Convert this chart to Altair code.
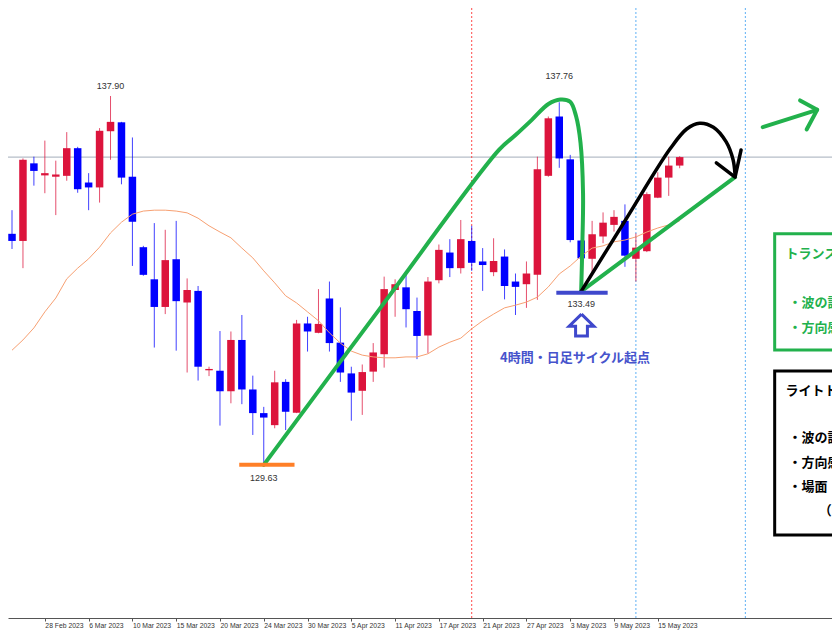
import altair as alt
import pandas as pd

# ---------------- data ----------------
months = [("Feb", [23, 24, 27, 28]),
          ("Mar", [1, 2, 3, 6, 7, 8, 9, 10, 12, 13, 14, 15, 16, 17, 19, 20, 21, 22, 23, 24, 27, 28, 29, 30, 31]),
          ("Apr", [3, 4, 5, 6, 7, 10, 11, 12, 13, 14, 17, 18, 19, 20, 21, 24, 25, 26, 27, 28]),
          ("May", [1, 2, 3, 4, 5, 8, 9, 10, 11, 12, 15, 16, 17])]
dates = [f"{d} {m} 2023" for m, ds in months for d in ds]

opens = [134.81, 134.65, 136.39, 136.12, 136.09, 136.11, 136.73, 135.96, 135.85, 137.11,
         137.31, 136.09, 134.51, 133.79, 133.17, 134.24, 133.27, 133.53, 131.75, 131.74,
         131.28, 132.43, 131.32, 130.79, 130.52, 131.49, 130.80, 132.80, 132.59, 133.36,
         132.37, 131.68, 131.29, 131.72, 132.11, 133.55, 133.61, 133.08, 132.53, 133.77,
         134.39, 134.04, 134.65, 134.19, 133.95, 134.30, 133.74, 133.68, 133.89, 136.11,
         137.44, 136.48, 134.66, 134.25, 134.75, 135.01, 135.10, 134.25, 134.42, 135.62,
         136.07, 136.34]
highs = [135.34, 136.50, 136.54, 136.90, 136.45, 137.09, 136.76, 136.17, 137.18, 137.90,
         137.32, 136.97, 134.54, 135.05, 134.90, 135.10, 133.81, 133.64, 131.83, 132.63,
         132.62, 132.99, 131.63, 130.93, 131.74, 131.55, 132.88, 132.95, 133.57, 133.74,
         133.16, 131.83, 131.88, 132.36, 133.85, 133.79, 133.96, 133.38, 133.84, 134.57,
         134.69, 135.12, 134.99, 134.49, 134.71, 134.46, 133.92, 134.19, 136.54, 137.44,
         137.76, 136.58, 134.67, 135.10, 135.29, 135.34, 135.47, 134.82, 135.74, 136.19,
         136.54, 136.55]
lows = [134.47, 134.04, 135.89, 135.72, 135.23, 136.00, 135.73, 135.34, 135.51, 136.47,
        135.92, 134.09, 133.87, 132.26, 133.01, 132.19, 131.70, 131.52, 131.62, 130.51,
        131.01, 130.99, 130.30, 129.63, 130.45, 130.41, 130.79, 132.17, 132.58, 132.17,
        131.49, 130.62, 130.75, 131.49, 131.81, 132.95, 132.71, 132.00, 132.13, 133.70,
        133.84, 133.92, 133.98, 133.53, 133.86, 133.34, 132.99, 133.15, 133.33, 136.09,
        136.29, 134.62, 133.49, 133.89, 134.60, 134.86, 134.07, 133.74, 134.40, 135.61,
        135.66, 136.28]
closes = [134.65, 136.47, 136.22, 136.17, 136.14, 136.73, 135.81, 135.85, 137.12, 137.32,
          136.07, 135.08, 133.89, 133.17, 134.22, 133.30, 133.55, 131.83, 131.78, 131.28,
          132.43, 131.32, 130.79, 130.69, 131.48, 130.82, 132.80, 132.62, 132.79, 132.36,
          131.70, 131.25, 131.71, 132.15, 133.57, 133.68, 133.12, 132.52, 133.74, 134.45,
          134.04, 134.69, 134.16, 134.11, 134.20, 133.64, 133.62, 133.92, 136.26, 137.40,
          136.50, 134.67, 134.26, 134.80, 135.06, 135.19, 134.32, 134.50, 135.70, 136.07,
          136.34, 136.53]
ma = [132.20, 132.43, 132.70, 133.06, 133.37, 133.80, 134.04, 134.25, 134.51, 134.83,
      135.07, 135.25, 135.32, 135.34, 135.34, 135.32, 135.28, 135.16, 134.99, 134.85,
      134.72, 134.49, 134.27, 133.98, 133.71, 133.42, 133.26, 133.06, 132.86, 132.59,
      132.36, 132.18, 132.09, 132.05, 132.03, 132.03, 132.05, 132.05, 132.12, 132.27,
      132.38, 132.47, 132.68, 132.86, 133.01, 133.15, 133.21, 133.28, 133.39, 133.62,
      133.91, 134.09, 134.31, 134.49, 134.54, 134.63, 134.67, 134.74, 134.85, 134.94,
      135.01, 135.10]

tick_idx = [3, 7, 11, 15, 19, 23, 27, 31, 35, 39, 43, 47, 51, 55, 59]
red_cycle_idx = [42]
blue_cycle_idx = [57, 67]
last_price = closes[-1]

# hand-drawn annotations (candle index, price)
arc_x = [23, 33.66, 44.49, 46.03, 47.47, 49.01, 50.09, 50.99, 51.53, 51.94, 52.17, 52.11, 52.0]
arc_y = [129.63, 133.15, 136.69, 137.03, 137.36, 137.72, 137.82, 137.77, 137.45, 136.85, 135.73, 134.60, 133.52]
black_x = [52.0, 56.05, 60.11, 61.64, 62.82, 64.08, 65.25, 65.88, 66.06]
black_y = [133.52, 135.12, 136.71, 137.16, 137.29, 137.20, 136.87, 136.47, 136.13]
black_head_x = [64.35, 66.06, 66.61]
black_head_y = [136.40, 136.08, 136.69]
green2_x = [52.0, 66.06]
green2_y = [133.52, 136.08]
green3_x = [68.59, 73.56]
green3_y = [137.20, 137.59]
green3_head_x = [72.0, 73.56, 72.6]
green3_head_y = [137.80, 137.59, 137.15]
uparrow_x = [52.03, 53.16, 52.57, 52.57, 51.49, 51.49, 50.90, 52.03]
uparrow_y = [133.01, 132.74, 132.74, 132.52, 132.52, 132.74, 132.74, 133.01]

W, H = 824, 610
XD = [0.09, 74.46]
YD = [126.196, 139.873]

label_expr = "[" + ",".join(f"'{d}'" for d in dates) + "][datum.value]"
xaxis = alt.Axis(values=tick_idx, labelExpr=label_expr, labelAlign="left", labelBaseline="top",
                 labelPadding=1, tickSize=3, labelFont="Liberation Sans", labelFontSize=6.8,
                 labelColor="#333333", domainColor="#555555", tickColor="#555555",
                 labelOverlap=False, labelFlush=False, labelBound=False, grid=False, title=None)


def X(f="x"):
    return alt.X(f"{f}:Q", scale=alt.Scale(domain=XD, nice=False, zero=False), axis=xaxis)


def Y(f="y"):
    return alt.Y(f"{f}:Q", scale=alt.Scale(domain=YD, nice=False, zero=False), axis=None)


df = pd.DataFrame({"idx": list(range(len(dates))), "date": dates, "open": opens,
                   "high": highs, "low": lows, "close": closes, "ma": ma})
df["dir"] = ["up" if c >= o else "down" for o, c in zip(opens, closes)]
color = alt.Color("dir:N", scale=alt.Scale(domain=["up", "down"], range=["#dc143c", "#0000ff"]), legend=None)

base = alt.Chart(df)

price_line = alt.Chart(pd.DataFrame({"y": [last_price]})).mark_rule(
    color="#a3adba", strokeWidth=1).encode(y=Y("y"))

red_v = alt.Chart(pd.DataFrame({"x": red_cycle_idx})).mark_rule(
    color="#ff4a4a", strokeDash=[2, 2], strokeWidth=1).encode(x=X("x"))
blue_v = alt.Chart(pd.DataFrame({"x": blue_cycle_idx})).mark_rule(
    color="#5fb0f5", strokeDash=[2, 2], strokeWidth=1).encode(x=X("x"))

wicks = base.mark_rule(strokeWidth=1, opacity=0.75).encode(x=X("idx"), y=Y("low"), y2="high:Q", color=color)
bodies = base.mark_bar(size=7.5).encode(x=X("idx"), y=Y("open"), y2="close:Q", color=color)
ma_line = base.mark_line(color="#f7a072", strokeWidth=1).encode(x=X("idx"), y=Y("ma"))


def path(xs, ys, col, sw, interp="linear"):
    d = pd.DataFrame({"x": xs, "y": ys, "o": list(range(len(xs)))})
    return alt.Chart(d).mark_line(color=col, strokeWidth=sw, interpolate=interp,
                                  strokeCap="round", strokeJoin="round").encode(
        x=X("x"), y=Y("y"), order="o:Q")


green_arc = path(arc_x, arc_y, "#22b14c", 4, "catmull-rom")
black_curve = path(black_x, black_y, "#000000", 3.5, "catmull-rom")
black_head = path(black_head_x, black_head_y, "#000000", 3.5)
green2 = path(green2_x, green2_y, "#22b14c", 4)
green3 = path(green3_x, green3_y, "#22b14c", 4)
green3_head = path(green3_head_x, green3_head_y, "#22b14c", 4)
uparrow = alt.Chart(pd.DataFrame({"x": uparrow_x, "y": uparrow_y, "o": list(range(len(uparrow_x)))})).mark_line(
    color="#3f48cc", strokeWidth=3, strokeJoin="miter").encode(x=X("x"), y=Y("y"), order="o:Q")

hlines = alt.Chart(pd.DataFrame({"x": [20.76, 49.73], "x2": [25.81, 54.42], "y": [129.63, 133.49],
                                 "c": ["#ff7f27", "#3f48cc"]})).mark_rule(strokeWidth=4).encode(
    x=X("x"), x2="x2:Q", y=Y("y"), color=alt.Color("c:N", scale=None))

price_labels = alt.Chart(pd.DataFrame({"x": [9, 50, 23, 52], "y": [138.12, 138.35, 129.34, 133.24],
                                       "t": ["137.90", "137.76", "129.63", "133.49"]})).mark_text(
    font="Liberation Sans", fontSize=9, color="#333333", align="center", baseline="middle").encode(
    x=X("x"), y=Y("y"), text="t:N")

cycle_text = alt.Chart(pd.DataFrame({"x": [51.44], "y": [132.03], "t": ["4時間・日足サイクル起点"]})).mark_text(
    font="Noto Sans CJK JP", fontSize=13, fontWeight="bold", color="#4653cc", align="center",
    baseline="middle").encode(x=X("x"), y=Y("y"), text="t:N")

boxes = alt.Chart(pd.DataFrame({"x": [69.68, 69.68], "x2": [78, 78], "y": [134.81, 131.734],
                                "y2": [132.205, 128.057], "c": ["#22b14c", "#000000"]})).mark_rect(
    fill="white", strokeWidth=3, clip=True).encode(
    x=X("x"), x2="x2:Q", y=Y("y"), y2="y2:Q", stroke=alt.Color("c:N", scale=None))

green_texts = alt.Chart(pd.DataFrame({
    "x": [70.67, 70.94, 70.94], "y": [134.36, 133.26, 132.70],
    "t": ["トランスレーション未確定", "・波の認識：確認中", "・方向感：上"]})).mark_text(
    font="Noto Sans CJK JP", fontSize=13, fontWeight="bold", color="#22b14c", align="left",
    baseline="middle", clip=True).encode(x=X("x"), y=Y("y"), text="t:N")

black_texts = alt.Chart(pd.DataFrame({
    "x": [70.67, 70.94, 70.94, 70.94, 73.7], "y": [131.29, 130.23, 129.67, 129.13, 128.60],
    "t": ["ライトトランスレーション", "・波の認識：上昇", "・方向感：上", "・場面：押し目買い",
          "（サイクル後半）"]})).mark_text(
    font="Noto Sans CJK JP", fontSize=13, fontWeight="bold", color="#000000", align="left",
    baseline="middle", clip=True).encode(x=X("x"), y=Y("y"), text="t:N")

chart = alt.layer(
    price_line, red_v, blue_v, wicks, bodies, ma_line,
    green_arc, green2, green3, green3_head, black_curve, black_head,
    hlines, uparrow, price_labels, cycle_text, boxes, green_texts, black_texts
).properties(
    width=W, height=H,
    autosize=alt.AutoSizeParams(type="none"),
    padding={"left": 0, "top": 0, "right": 0, "bottom": 14},
    background="white",
).configure_view(stroke=None)

chart.save("out.html", embed_options={"renderer": "svg", "actions": False})
